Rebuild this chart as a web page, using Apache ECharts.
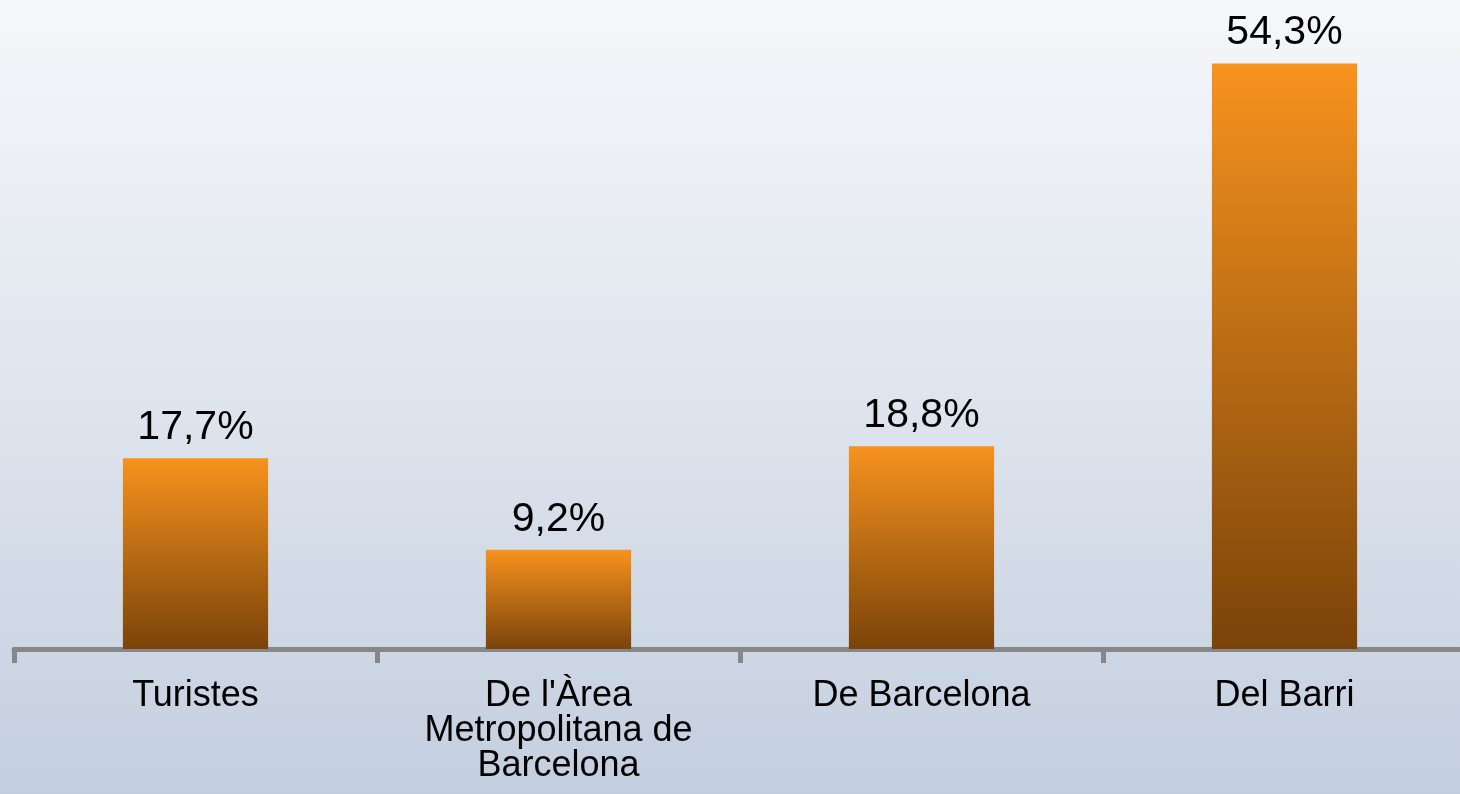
<!DOCTYPE html>
<html>
<head>
<meta charset="utf-8">
<script src="https://cdn.jsdelivr.net/npm/echarts@6/dist/echarts.min.js"></script>
<style>
  html, body { margin: 0; padding: 0; }
  #chart { width: 1460px; height: 794px; }
</style>
</head>
<body>
<div id="chart"></div>
<script>
var categories = ["Turistes", "De l'Àrea\nMetropolitana de\nBarcelona", "De Barcelona", "Del Barri"];
var values = [17.7, 9.2, 18.8, 54.3];

var chart = echarts.init(document.getElementById('chart'));
var option = {
    backgroundColor: new echarts.graphic.LinearGradient(0, 0, 0, 1, [
        { offset: 0, color: '#f5f7fa' },
        { offset: 0.5, color: '#dfe5ee' },
        { offset: 1, color: '#c3cedf' }
    ]),
    animation: false,
    grid: {
        left: 14,
        width: 1452,
        top: 2,
        bottom: 145,
        containLabel: false,
        outerBoundsMode: 'none'
    },
    xAxis: {
        type: 'category',
        data: categories,
        axisLine: { lineStyle: { color: '#878787', width: 5 } },
        axisTick: { show: true, length: 14, lineStyle: { color: '#878787', width: 5 } },
        axisLabel: {
            color: '#000',
            fontFamily: 'Liberation Sans, Arial, sans-serif',
            fontSize: 36,
            lineHeight: 35,
            margin: 30,
            interval: 0
        }
    },
    yAxis: {
        type: 'value',
        min: 0,
        max: 60,
        show: false,
        splitLine: { show: false }
    },
    series: [{
        type: 'bar',
        data: values,
        barWidth: '40%',
        itemStyle: {
            color: new echarts.graphic.LinearGradient(0, 0, 0, 1, [
                { offset: 0, color: '#f7931e' },
                { offset: 1, color: '#7a4309' }
            ])
        },
        label: {
            show: true,
            position: 'top',
            distance: 10,
            color: '#000',
            fontFamily: 'Liberation Sans, Arial, sans-serif',
            fontSize: 41,
            formatter: function (p) {
                return p.value.toFixed(1).replace('.', ',') + '%';
            }
        }
    }]
};
chart.setOption(option);
</script>
</body>
</html>
